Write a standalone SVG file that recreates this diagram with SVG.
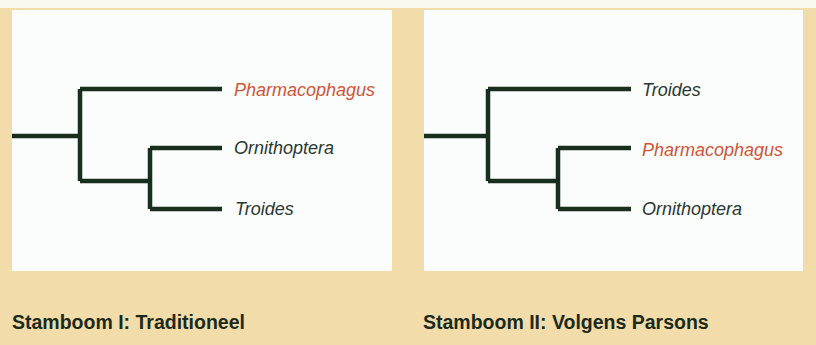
<svg xmlns="http://www.w3.org/2000/svg" width="816" height="345" viewBox="0 0 816 345">
  <style>
    .panel { fill: #fbfcfc; }
    .branch { fill: none; stroke: #172f1c; stroke-width: 4.5; stroke-linecap: butt; stroke-linejoin: miter; }
    .taxon { font-family: "Liberation Sans", Arial, sans-serif; font-style: italic; font-size: 18px; fill: #2b3833; }
    .hl { fill: #cf5438; }
    .caption { font-family: "Liberation Sans", Arial, sans-serif; font-weight: bold; font-size: 19.5px; fill: #1c2a1c; }
  </style>
  <rect x="0" y="0" width="816" height="345" fill="#f1dcaa"/>
  <rect x="0" y="0" width="816" height="8" fill="#fbf8f0"/>
  <g id="panel-left">
    <rect class="panel" x="12" y="10" width="380" height="261"/>
  </g>
  <g id="panel-right">
    <rect class="panel" x="424" y="10" width="379" height="261"/>
  </g>
  <g id="connectors">
    <path class="branch" d="M12,136 H80 M80,89 V181 M80,89 H222 M80,181 H150 M150,148 V209 M150,148 H222 M150,209 H222"/>
    <path class="branch" d="M424,136 H488 M488,89 V181 M488,89 H631 M488,181 H558 M558,148 V209 M558,148 H631 M558,209 H631"/>
  </g>
  <g id="left-pharmacophagus"><text class="taxon hl" x="234" y="96">Pharmacophagus</text></g>
  <g id="left-ornithoptera"><text class="taxon" x="234" y="154">Ornithoptera</text></g>
  <g id="left-troides"><text class="taxon" x="235" y="215">Troides</text></g>
  <g id="right-troides"><text class="taxon" x="642" y="96">Troides</text></g>
  <g id="right-pharmacophagus"><text class="taxon hl" x="642" y="156">Pharmacophagus</text></g>
  <g id="right-ornithoptera"><text class="taxon" x="642" y="215">Ornithoptera</text></g>
  <g id="caption-left"><text class="caption" x="12" y="329">Stamboom I: Traditioneel</text></g>
  <g id="caption-right"><text class="caption" x="423" y="329">Stamboom II: Volgens Parsons</text></g>
</svg>
